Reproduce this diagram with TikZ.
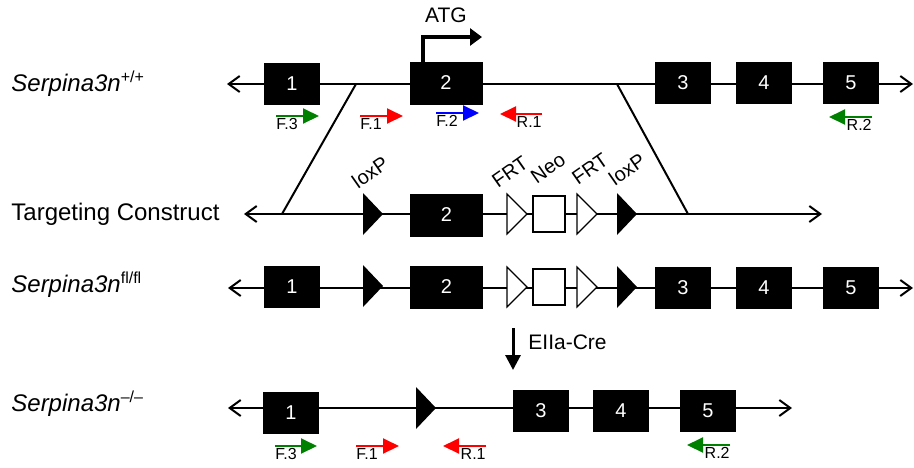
\documentclass[tikz,border=0pt]{standalone}
\usepackage{fontspec}
\setmainfont{Liberation Sans}
\usepackage{tikz}
\usetikzlibrary{arrows.meta,positioning,calc}
\definecolor{pgreen}{RGB}{0,128,0}
\tikzstyle{exon} = [rectangle, fill=black, text=white, inner sep=0pt, minimum width=28pt, minimum height=21pt, font=\fontsize{10}{12}\selectfont]
\tikzstyle{bigexon} = [exon, minimum width=36.5pt, minimum height=21.5pt]
\tikzstyle{neo} = [rectangle, draw, fill=white, line width=0.6pt, inner sep=0pt, minimum width=16pt, minimum height=18pt]
\tikzstyle{dna} = [line width=1pt, {Straight Barb[length=5.5pt,width=8pt]}-{Straight Barb[length=5.5pt,width=8pt]}]
\tikzstyle{primer} = [line width=1pt, -{Triangle[length=8pt,width=7.5pt]}]
\tikzstyle{plab} = [inner sep=0pt, font=\fontsize{8}{9}\selectfont]
\tikzstyle{row} = [anchor=west, inner sep=0pt, font=\fontsize{12}{14}\selectfont]
\tikzstyle{site} = [inner sep=0pt, rotate=35, font=\fontsize{10}{12}\selectfont]
\tikzset{
	loxp/.pic={\fill (-10,-21) -- (10,0) -- (-10,21) -- cycle;},
	frt/.pic={\draw[fill=white, line width=0.6pt] (-10,-20) -- (10,0) -- (-10,20) -- cycle;}
}

\begin{document}
\begin{tikzpicture}[x=0.5pt, y=-0.5pt]
	\useasboundingbox (0,0) rectangle (914,467);
	% wild type allele
	\node[row] (wt) at (11,84) {\textit{Serpina3n}\textsuperscript{+/+}};
	\coordinate (wtL) at (227,84);
	\coordinate (wtR) at (913,84);
	\draw[dna] (wtL) -- (wtR);
	\node[exon] (wt1) at (292,84) {1};
	\node[bigexon] (wt2) at (446,83) {2};
	\foreach \n/\x in {3/683,4/764,5/851}
		\node[exon] (wt\n) at (\x,83) {\n};
	% start codon
	\coordinate (tss) at (423,62);
	\coordinate (atg) at (482,37);
	\draw[line width=1.8pt, -{Triangle[length=6pt,width=8.5pt]}] (tss) |- (atg);
	\node[font=\fontsize{10.5}{12}\selectfont] (atglab) at (446,15) {ATG};
	% primers on the wild type allele
	\foreach \a/\b/\yy/\col/\lab/\nm/\anc in {276/319/116/pgreen/F.3/wtfc/base west, 360/403/116/red/F.1/wtfa/base west, 436/479/113/blue/F.2/wtfb/base west, 542/500/114/red/R.1/wtra/base east, 872/829/117/pgreen/R.2/wtrb/base east}{
		\coordinate (\nm s) at (\a,\yy);
		\coordinate (\nm e) at (\b,\yy);
		\draw[primer, color=\col] (\nm s) -- (\nm e);
		\node[plab, anchor=\anc] (\nm l) at ($(\nm s)+(0,13)$) {\lab};
	}
	% targeting construct
	\node[row] (tc) at (11,214) {Targeting Construct};
	\coordinate (tcL) at (244,214);
	\coordinate (tcR) at (822,214);
	\draw[dna] (tcL) -- (tcR);
	% homology arms
	\coordinate (armA) at (356,84);
	\coordinate (armB) at (282,214);
	\coordinate (armC) at (617,84);
	\coordinate (armD) at (688,214);
	\draw[line width=1pt] (armA) -- (armB) (armC) -- (armD);
	\pic (tclox1) at (373,214) {loxp};
	\node[bigexon] (tc2) at (446.5,215) {2};
	\pic (tcfrt1) at (517,214) {frt};
	\node[neo] (tcneo) at (549,214) {};
	\pic (tcfrt2) at (587,214) {frt};
	\pic (tclox2) at (627,214) {loxp};
	% site labels
	\node[site] (sl1) at (370,172) {loxP};
	\node[site] (sf1) at (510,172) {FRT};
	\node[site] (sneo) at (548,168) {Neo};
	\node[site] (sf2) at (590,169) {FRT};
	\node[site] (sl2) at (627,169) {loxP};
	% floxed allele
	\node[row] (fl) at (11,285) {\textit{Serpina3n}\textsuperscript{fl/fl}};
	\coordinate (flL) at (228,288);
	\coordinate (flR) at (913,288);
	\draw[dna] (flL) -- (flR);
	\node[exon] (fl1) at (292,287) {1};
	\pic (fllox1) at (373,286) {loxp};
	\node[bigexon] (fl2) at (446.5,287) {2};
	\pic (flfrt1) at (517,287) {frt};
	\node[neo] (flneo) at (549,287) {};
	\pic (flfrt2) at (587,287) {frt};
	\pic (fllox2) at (627,287) {loxp};
	\foreach \n/\x in {3/683,4/764,5/851}
		\node[exon] (fl\n) at (\x,288) {\n};
	% cre deletion
	\coordinate (creA) at (513,328);
	\coordinate (creB) at (513,370);
	\draw[line width=1.5pt, -{Triangle[length=7.5pt,width=7.5pt]}] (creA) -- (creB);
	\node[anchor=west, inner sep=0pt, font=\fontsize{10.5}{12}\selectfont] (cre) at (528,342) {EIIa-Cre};
	% knockout allele
	\node[row] (ko) at (11,404) {\textit{Serpina3n}\textsuperscript{–/–}};
	\coordinate (koL) at (228,408);
	\coordinate (koR) at (792,408);
	\draw[dna] (koL) -- (koR);
	\node[exon] (ko1) at (291,413) {1};
	\pic (kolox) at (426,408) {loxp};
	\foreach \n/\x in {3/541,4/621,5/708}
		\node[exon] (ko\n) at (\x,411) {\n};
	% primers on the knockout allele
	\foreach \a/\b/\yy/\col/\lab/\nm/\anc in {275/317/446/pgreen/F.3/kofc/base west, 356/399/446/red/F.1/kofa/base west, 486/443/446/red/R.1/kora/base east, 730/687/445/pgreen/R.2/korb/base east}{
		\coordinate (\nm s) at (\a,\yy);
		\coordinate (\nm e) at (\b,\yy);
		\draw[primer, color=\col] (\nm s) -- (\nm e);
		\node[plab, anchor=\anc] (\nm l) at ($(\nm s)+(0,13)$) {\lab};
	}
\end{tikzpicture}
\end{document}
